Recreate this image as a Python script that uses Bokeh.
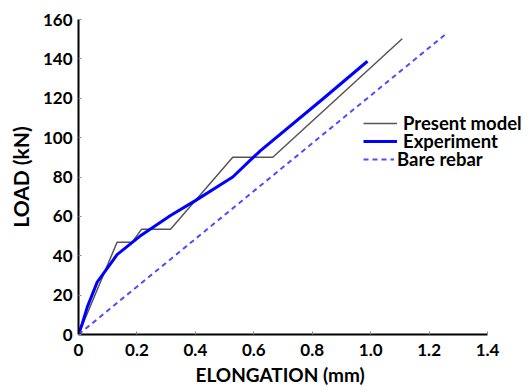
from bokeh.plotting import figure
from bokeh.models import Legend, LegendItem, FixedTicker, Range1d, Title
from bokeh.embed import file_html
from bokeh.resources import INLINE

# data
present_x = [0, 0.132, 0.184, 0.216, 0.315, 0.528, 0.665, 1.108]
present_y = [0, 46.9, 46.9, 53.5, 53.5, 90, 90, 150.2]

exp_x = [0, 0.013, 0.03, 0.064, 0.11, 0.132, 0.216, 0.315, 0.40, 0.509, 0.528, 0.589, 0.623, 0.835, 0.989]
exp_y = [0, 5.6, 13.9, 26.6, 36, 40.6, 50.6, 60.4, 68, 78.2, 80, 88.7, 93.4, 119.5, 138.8]

bare_x = [0, 1.262]
bare_y = [0, 153.2]

x_ticks = [0, 0.2, 0.4, 0.6, 0.8, 1.0, 1.2, 1.4]
x_tick_labels = ["0", "0.2", "0.4", "0.6", "0.8", "1.0", "1.2", "1.4"]
y_ticks = [0, 20, 40, 60, 80, 100, 120, 140, 160]
series_names = ["Present model", "Experiment", "Bare rebar"]
x_title = "ELONGATION (mm)"
y_title = "LOAD (kN)"

FONT = "Lato"

p = figure(width=530, height=392, output_backend="svg", toolbar_location=None,
           x_range=Range1d(0, 1.547), y_range=Range1d(0, 160),
           min_border_left=78, min_border_right=0, min_border_top=19, min_border_bottom=58)
p.outline_line_color = None
p.grid.visible = False
p.background_fill_color = "white"

r1 = p.line(present_x, present_y, line_color="#555555", line_width=1.5)
r2 = p.line(exp_x, exp_y, line_color="#0000ff", line_width=3)
r3 = p.line(bare_x, bare_y, line_color="#4d4dff", line_width=2, line_dash="5 4")

for ax in (p.xaxis[0], p.yaxis[0]):
    ax.axis_line_color = "black"
    ax.axis_line_width = 2
    ax.major_tick_in = 3
    ax.major_tick_out = 0
    ax.major_tick_line_color = "#888888"
    ax.minor_tick_line_color = None
    ax.major_label_text_font = FONT
    ax.major_label_text_font_style = "bold"
    ax.major_label_text_font_size = "17px"
    ax.major_label_text_color = "black"
    ax.axis_label_text_font = FONT
    ax.axis_label_text_font_style = "bold"
    ax.axis_label_text_color = "black"

p.xaxis.bounds = (0, 1.4)
p.xaxis.ticker = FixedTicker(ticks=x_ticks)
p.xaxis.major_label_overrides = {t: l for t, l in zip(x_ticks, x_tick_labels)}
p.yaxis.ticker = FixedTicker(ticks=y_ticks)
p.yaxis.axis_label = y_title
p.yaxis.axis_label_text_font_size = "21px"
p.xaxis.major_label_standoff = 9
p.yaxis.major_label_standoff = 6
p.yaxis.axis_label_standoff = 7

# x-axis title centred under the axis rule (0..1.4), not under the wider frame
xt = Title(text=x_title, align="left", offset=117, standoff=4,
           text_font=FONT, text_font_style="bold", text_font_size="19px",
           text_color="black")
p.add_layout(xt, "below")

rows = [(r1, series_names[0], 285, 199, 6),
        (r2, series_names[1], 285, 181, 6),
        (r3, series_names[2], 285, 163, 3)]
for rend, name, lx, ly, stand in rows:
    lg = Legend(items=[LegendItem(label=name, renderers=[rend])],
                location=(lx, ly), orientation="vertical",
                glyph_width=34 if stand == 6 else 31, glyph_height=24, label_height=24,
                label_standoff=stand,
                spacing=0, padding=0, margin=0,
                border_line_color=None, background_fill_alpha=0,
                label_text_font=FONT, label_text_font_style="bold",
                label_text_font_size="18.5px", label_text_color="black")
    p.add_layout(lg, "center")

open("out.html", "w").write(file_html(p, INLINE))
